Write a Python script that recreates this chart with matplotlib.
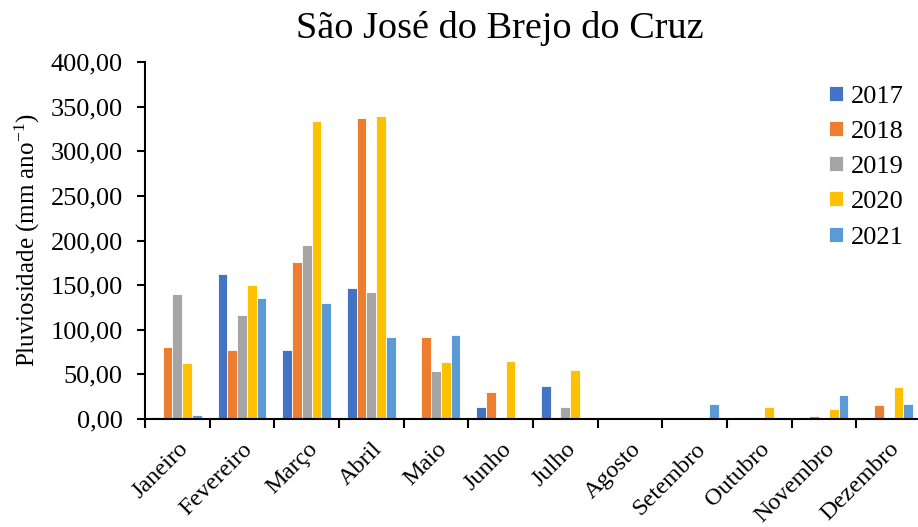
import matplotlib
matplotlib.use('agg')
import matplotlib.pyplot as plt
import numpy as np
from matplotlib.ticker import FuncFormatter, FixedLocator

months = ['Janeiro', 'Fevereiro', 'Março', 'Abril', 'Maio', 'Junho', 'Julho',
          'Agosto', 'Setembro', 'Outubro', 'Novembro', 'Dezembro']
years = ['2017', '2018', '2019', '2020', '2021']

v2017 = [2.0, 163.0, 77.5, 146.4, 0.0, 13.9, 37.5, 0.0, 0.0, 0.0, 0.0, 0.0]
v2018 = [80.5, 77.5, 175.7, 336.7, 91.4, 30.7, 0.0, 0.0, 0.0, 0.0, 3.0, 15.7]
v2019 = [140.4, 116.0, 194.8, 142.3, 54.3, 1.5, 13.9, 0.0, 0.0, 0.0, 0.0, 0.0]
v2020 = [62.5, 150.6, 334.0, 339.7, 63.7, 65.2, 55.4, 0.0, 0.0, 13.9, 11.2, 36.3]
v2021 = [4.5, 135.6, 130.0, 91.8, 94.4, 0.0, 0.0, 0.0, 16.9, 0.0, 26.6, 16.9]

series = [v2017, v2018, v2019, v2020, v2021]
colors = ['#4472C4', '#ED7D31', '#A5A5A5', '#FFC000', '#5B9BD5']

plt.rcParams['font.family'] = ['Liberation Serif', 'DejaVu Serif']
plt.rcParams['mathtext.fontset'] = 'custom'
plt.rcParams['mathtext.rm'] = 'Liberation Serif'
plt.rcParams['mathtext.it'] = 'Liberation Serif:italic'

fig = plt.figure(figsize=(9.18, 5.27), dpi=100)
ax = fig.add_axes([145/918, 108/527, 776/918, 357/527])

x = np.arange(len(months))
w = 0.151
for i, (vals, c, yr) in enumerate(zip(series, colors, years)):
    ax.bar(x + (i - 2) * w, vals, width=w, color=c, edgecolor='white',
           linewidth=0.6, label=yr)

ax.set_xlim(-0.5, 11.5)
ax.set_ylim(0, 400)
ax.set_yticks(np.arange(0, 401, 50))
ax.yaxis.set_major_formatter(FuncFormatter(lambda v, p: f'{v:.2f}'.replace('.', ',')))

ax.set_xticks(x)
ax.set_xticklabels(months, rotation=45, ha='right', rotation_mode='anchor', fontsize=17.5)
ax.xaxis.set_minor_locator(FixedLocator(np.arange(-0.5, 12, 1)))
ax.tick_params(axis='x', which='major', length=0, pad=14)
ax.tick_params(axis='x', which='minor', length=6.5, width=1.5, direction='out')
ax.tick_params(axis='y', labelsize=19, length=6, width=1.5, direction='out', pad=10)

for s in ['top', 'right']:
    ax.spines[s].set_visible(False)
for s in ['left', 'bottom']:
    ax.spines[s].set_linewidth(1.5)

ax.set_ylabel('Pluviosidade (mm ano$^{-1}$)', fontsize=18, labelpad=6)
fig.text(0.545, 0.945, 'São José do Brejo do Cruz', ha='center', va='center', fontsize=27.5)

ax.legend(loc='upper right', bbox_to_anchor=(1.008, 1.0), frameon=False, fontsize=19,
          handlelength=0.5, handleheight=0.5, handletextpad=0.3, labelspacing=0.5)

plt.savefig('out.png', dpi=100)
plt.close()
